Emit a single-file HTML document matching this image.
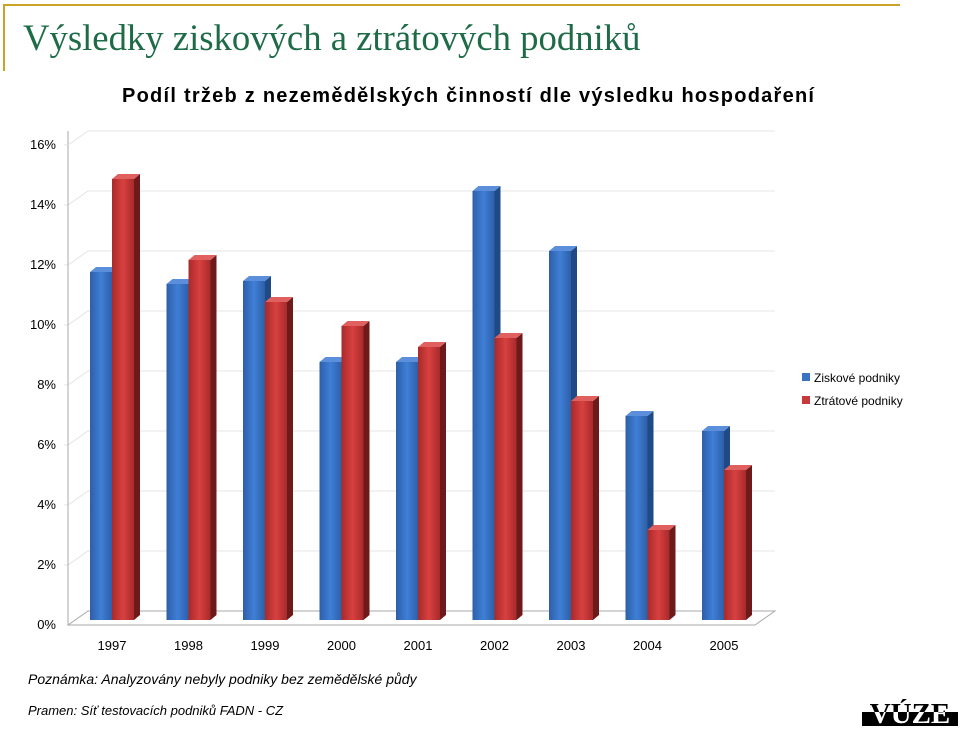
<!DOCTYPE html>
<html><head><meta charset="utf-8"><style>
body{margin:0;width:960px;height:729px;background:#fff;overflow:hidden;position:relative;font-family:"Liberation Sans",sans-serif}
.a{position:absolute}
</style></head><body>
<div class="a" style="left:3px;top:4px;width:897px;height:2px;background:#c9a227"></div>
<div class="a" style="left:3px;top:4px;width:2px;height:67px;background:#c9a227"></div>
<div class="a" style="left:23px;top:16px;font-family:'Liberation Serif',serif;font-size:36.7px;color:#1e6b47">Výsledky ziskových a ztrátových podniků</div>
<div class="a" style="left:122px;top:85px;font-weight:bold;font-size:20px;letter-spacing:1.25px;color:#000;white-space:nowrap">Podíl tržeb z nezemědělských činností dle výsledku hospodaření</div>
<svg class="a" style="left:0;top:0" width="960" height="729">
<defs>
<linearGradient id="gb" x1="0" x2="1"><stop offset="0" stop-color="#2d5fa8"/><stop offset="0.5" stop-color="#3f7fd6"/><stop offset="1" stop-color="#2d5fa8"/></linearGradient>
<linearGradient id="gr" x1="0" x2="1"><stop offset="0" stop-color="#a82a2a"/><stop offset="0.5" stop-color="#d84040"/><stop offset="1" stop-color="#a82a2a"/></linearGradient>
</defs>
<g id="grid"></g><g id="bars"></g><g id="labels"></g>
<rect x="802" y="373" width="8" height="8" fill="#3a72c4"/>
<text x="814" y="382" font-size="12">Ziskové podniky</text>
<rect x="802" y="396" width="8" height="8" fill="#c83a3a"/>
<text x="814" y="405" font-size="12">Ztrátové podniky</text>
</svg>
<div class="a" style="left:28px;top:671px;font-size:14px;font-style:italic">Poznámka: Analyzovány nebyly podniky bez zemědělské půdy</div>
<div class="a" style="left:28px;top:703px;font-size:13px;font-style:italic">Pramen: Síť testovacích podniků FADN - CZ</div>
<div class="a" style="left:862px;top:699px;width:96px;height:27px;overflow:hidden">
 <div style="position:absolute;left:0;top:0;width:96px;height:27px;font-family:'Liberation Serif',serif;font-weight:bold;font-size:29px;line-height:30px;text-align:center;color:#000">VÚZE</div>
 <div style="position:absolute;left:0;top:13px;width:96px;height:14px;background:#000;overflow:hidden"><div style="position:absolute;left:0;top:-13px;width:96px;font-family:'Liberation Serif',serif;font-weight:bold;font-size:29px;line-height:30px;text-align:center;color:#fff">VÚZE</div></div>
</div>
<script>
const years=["1997","1998","1999","2000","2001","2002","2003","2004","2005"];
const ziskove=[11.6,11.2,11.3,8.6,8.6,14.3,12.3,6.8,6.3];
const ztratove=[14.7,12.0,10.6,9.8,9.1,9.4,7.3,3.0,5.0];
const ticks=[0,2,4,6,8,10,12,14,16];
const NS="http://www.w3.org/2000/svg";
const y0=620,ppu=30,dx=20,dy=-14;
function yScale(v){return y0-v*ppu;}
function xScale(i){return 90+i*76.5;}
function mk(tag,attrs,parent){const e=document.createElementNS(NS,tag);for(const k in attrs)e.setAttribute(k,attrs[k]);document.getElementById(parent).appendChild(e);return e;}
const axY=625;
mk('polyline',{points:`${68},${yScale(16)+5+dy} ${68},${axY} ${68+dx},${axY+dy} ${775},${axY+dy} ${755},${axY}  ${68},${axY}`,fill:'none',stroke:'#aaa','stroke-width':1},'grid');
ticks.forEach(t=>{
 const y=yScale(t)+5;
 const g=mk('polyline',{points:`${64},${y} ${68},${y} ${68+dx},${y+dy} ${775},${y+dy}`,fill:'none',stroke:t==0?'none':'#e4e4e4','stroke-width':1},'grid');
 
 
 const tx=mk('text',{x:56,y:y+4,'text-anchor':'end','font-size':13,fill:'#000'},'labels');
 tx.textContent=t+'%';
 
 
});
mk('line',{x1:68,y1:yScale(16)+5,x2:68,y2:axY,stroke:'#aaa'},'grid');
function bar(x,v,fill,top,side,name){
 const w=22,d=6,yt=yScale(v);
 const g=mk('g',{},'bars');
 
 
 const p1=document.createElementNS(NS,'polygon');p1.setAttribute('points',`${x+w},${yt} ${x+w+d},${yt-5} ${x+w+d},${y0-5} ${x+w},${y0}`);p1.setAttribute('fill',side);g.appendChild(p1);
 const p2=document.createElementNS(NS,'polygon');p2.setAttribute('points',`${x},${yt} ${x+d},${yt-5} ${x+w+d},${yt-5} ${x+w},${yt}`);p2.setAttribute('fill',top);g.appendChild(p2);
 const r=document.createElementNS(NS,'rect');r.setAttribute('x',x);r.setAttribute('y',yt);r.setAttribute('width',w);r.setAttribute('height',y0-yt);r.setAttribute('fill',fill);g.appendChild(r);
}
years.forEach((yr,i)=>{
 const x=xScale(i);
 bar(x,ziskove[i],'url(#gb)','#5b8fdc','#1f4a85','bar-ziskove-'+yr);
 bar(x+22,ztratove[i],'url(#gr)','#e06060','#6e1a1a','bar-ztratove-'+yr);
 const t=mk('text',{x:x+22,y:650,'text-anchor':'middle','font-size':13},'labels');
 t.textContent=yr;
 
 
});
</script>
</body></html>
